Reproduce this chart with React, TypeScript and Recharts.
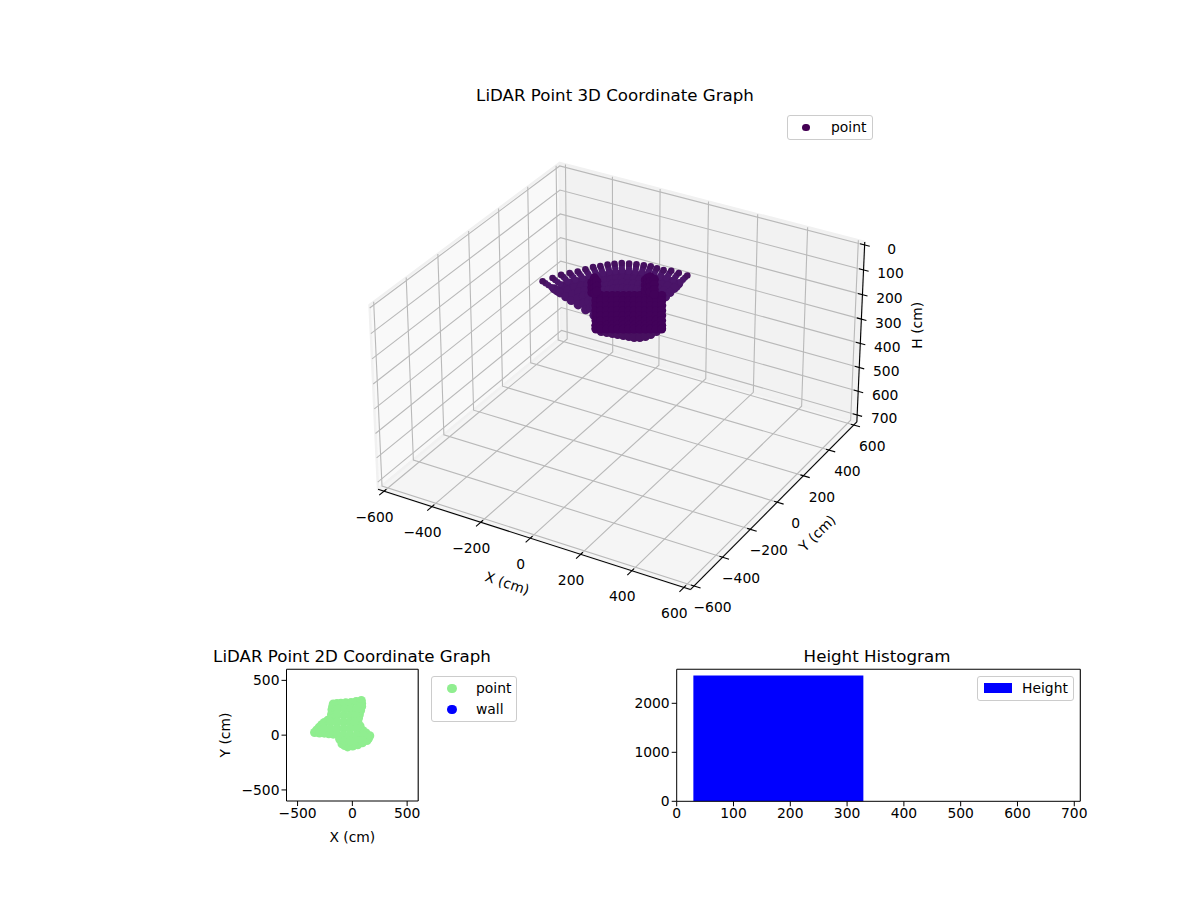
import {
  Bar,
  BarChart,
  ReferenceLine,
  Legend,
  Scatter,
  ScatterChart,
  XAxis,
  YAxis,
  ZAxis,
} from 'recharts';

const FONT = '"DejaVu Sans", sans-serif';

const xTicks = [-600, -400, -200, 0, 200, 400, 600];
const yTicks = [-600, -400, -200, 0, 200, 400, 600];
const hTicks = [0, 100, 200, 300, 400, 500, 600, 700];

// fan of scan rays: one row per height, one column per ray
const rayHeights = [115, 120, 126, 132, 137, 143, 149, 160, 171, 184, 198, 214];
const rayX = [
  [-327, -309, -295, -276, -257, -242, -227, -209, -192, -174, -154, -129, -104, -78, -53, -26, 1, 27, 58, 93],
  [-316, -299, -285, -267, -248, -234, -220, -202, -186, -168, -149, -125, -101, -76, -52, -26, 0, 25, 55, 89],
  [-306, -289, -276, -258, -240, -226, -213, -196, -180, -163, -145, -121, -98, -74, -51, -26, 0, 24, 53, 85],
  [-295, -279, -266, -249, -232, -218, -205, -189, -174, -158, -140, -117, -95, -72, -50, -25, -1, 22, 50, 81],
  [-284, -269, -257, -240, -224, -211, -198, -183, -168, -153, -135, -114, -92, -70, -49, -25, -2, 20, 47, 77],
  [-273, -258, -247, -231, -215, -203, -190, -176, -162, -147, -130, -110, -89, -68, -47, -25, -2, 18, 44, 73],
  [-262, -248, -237, -222, -207, -195, -183, -169, -156, -142, -126, -106, -86, -66, -46, -25, -3, 17, 42, 69],
  [-241, -228, -218, -205, -191, -180, -169, -156, -144, -131, -117, -99, -81, -62, -44, -25, -5, 13, 36, 61],
  [-220, -208, -199, -186, -174, -164, -155, -143, -132, -120, -107, -91, -75, -58, -41, -24, -6, 11, 31, 53],
  [-195, -185, -177, -166, -155, -147, -138, -128, -118, -108, -97, -83, -68, -53, -39, -24, -8, 6, 24, 44],
  [-167, -158, -152, -142, -133, -126, -119, -110, -102, -94, -84, -72, -60, -47, -35, -22, -10, 3, 18, 35],
  [-136, -129, -124, -117, -110, -104, -98, -91, -85, -78, -71, -61, -52, -42, -32, -22, -12, -2, 10, 23],
];
const rayY = [
  [10, 48, 83, 110, 134, 162, 190, 210, 232, 250, 267, 276, 285, 292, 298, 295, 295, 304, 303, 302],
  [11, 48, 82, 108, 131, 158, 185, 204, 226, 243, 259, 268, 277, 284, 289, 286, 286, 295, 294, 293],
  [13, 49, 81, 106, 129, 155, 181, 199, 220, 237, 252, 261, 269, 276, 281, 278, 278, 287, 286, 285],
  [15, 50, 80, 104, 126, 151, 176, 194, 214, 230, 245, 253, 261, 268, 273, 270, 270, 278, 277, 276],
  [17, 50, 80, 103, 124, 148, 172, 189, 208, 223, 238, 246, 253, 260, 265, 262, 262, 270, 269, 268],
  [19, 50, 79, 101, 121, 144, 167, 184, 202, 216, 231, 238, 245, 251, 256, 254, 254, 261, 260, 259],
  [21, 51, 78, 100, 119, 141, 163, 179, 196, 210, 224, 231, 238, 243, 248, 246, 246, 253, 252, 251],
  [24, 52, 77, 96, 113, 134, 154, 168, 184, 197, 209, 216, 222, 227, 232, 229, 229, 236, 235, 234],
  [27, 52, 75, 93, 108, 126, 145, 158, 172, 184, 195, 200, 206, 211, 215, 213, 213, 219, 218, 217],
  [32, 53, 73, 89, 102, 118, 134, 146, 158, 169, 178, 183, 188, 192, 196, 194, 194, 199, 199, 198],
  [36, 54, 71, 84, 95, 109, 122, 132, 142, 151, 159, 163, 168, 171, 174, 173, 173, 177, 176, 176],
  [41, 55, 69, 79, 88, 99, 109, 117, 125, 132, 138, 142, 145, 148, 150, 149, 149, 153, 152, 152],
];

// central shaft: columns of points, each running down to its own floor height
const shaftX = [-104, -88, -71, -54, -38, -21, -4, 12, 29, 46, 62, 79, 95];
const shaftY = [0, 9, 19, 29, 38, 48, 58, 67, 77, 87, 96, 106, 115];
const shaftFloor = [239, 251, 255, 259, 263, 267, 271, 275, 275, 271, 263, 251, 239];
const shaftHeights = [106, 126, 146, 166, 186, 206, 226, 241];

const hornPoints = [
  [-116, -7, 54], [-116, -7, 74], [-116, -7, 94],
  [-108, -2, 36], [-108, -2, 56], [-108, -2, 76], [-108, -2, 96],
  [-101, 2, 49], [-101, 2, 69], [-101, 2, 89],
  [45, 86, 44], [45, 86, 64], [45, 86, 84],
  [52, 90, 36], [52, 90, 56], [52, 90, 76],
  [60, 95, 32], [60, 95, 52], [60, 95, 72], [60, 95, 92],
  [72, 102, 42], [72, 102, 62], [72, 102, 82], [72, 102, 102],
];

// top-down footprint for the 2D panel
const footprint = [
  [-345, 24], [-325, 48], [-302, 73], [-280, 95], [-256, 116], [-225, 135], [-195, 152], [-190, 190], [-186, 232],
  [-180, 260], [-174, 284], [-140, 288], [-104, 290], [-60, 295], [-12, 299], [35, 308], [82, 317], [85, 290],
  [85, 262], [75, 225], [64, 186], [56, 155], [49, 125], [70, 85], [95, 43], [125, 20], [159, -6], [148, -28],
  [134, -49], [92, -70], [49, -88], [3, -100], [-43, -107], [-70, -95], [-95, -79], [-115, -38], [-134, 3],
  [-175, 9], [-215, 13], [-256, 18], [-300, 20],
  [-130, 240], [-70, 240], [-10, 240], [40, 240],
  [-140, 180], [-80, 180], [-20, 180], [30, 180],
  [-200, 120], [-140, 120], [-80, 120], [-20, 120], [20, 120],
  [-260, 60], [-200, 60], [-140, 60], [-80, 60], [-20, 60], [40, 60],
  [-80, 0], [-20, 0], [40, 0], [100, 0],
  [-70, -50], [-20, -50], [40, -50], [90, -50],
];

const histCenters = [179];
const histCounts = [2566];

const LIM = 625;
const H_TOP = -12;
const H_BOTTOM = 730;

// same camera as a default mplot3d view (elev 30, azim -60)
function project(x: number, y: number, h: number) {
  const qx = (x / 625) * 0.571;
  const qy = (y / 625) * 0.571;
  const qz = 0.337 - ((h - H_TOP) / (H_BOTTOM - H_TOP)) * 0.674;
  const u = 0.866 * qx + 0.5 * qy;
  const v = -0.25 * qx + 0.433 * qy + 0.866 * qz;
  const w = 0.433 * qx - 0.75 * qy + 0.5 * qz;
  const depth = 10 - w;
  return { px: 621.7 + (3120 * u) / depth, py: 365.5 - (3120 * v) / depth };
}

const path3d = (pts: number[][]) => pts.map(([x, y, h]) => project(x, y, h));
const minus = (v: number) => String(v).replace('-', '\u2212');

const fanRow = (h: number, row: number) => rayX[row].map((x, i) => project(x, rayY[row][i], h));
const fanTips = fanRow(rayHeights[0], 0);
const fanOuter = rayHeights.slice(1, 4).flatMap((h, row) => fanRow(h, row + 1));
const fanInner = rayHeights.slice(4).flatMap((h, row) => fanRow(h, row + 4));
const shaftUpper = shaftX.flatMap((x, i) => shaftHeights.map((h) => project(x, shaftY[i], h)));
const shaftLower = shaftX.map((x, i) => project(x, shaftY[i], shaftFloor[i] - 12)).concat(
  shaftX.map((x, i) => project(x, shaftY[i], shaftFloor[i])),
);
const horns = hornPoints.map(([x, y, h]) => project(x, y, h));

const panes = [
  { fill: '#f9f9f9', pts: [[-LIM, -LIM, H_BOTTOM], [-LIM, -LIM, H_TOP], [-LIM, LIM, H_TOP], [-LIM, LIM, H_BOTTOM]] },
  { fill: '#f2f2f2', pts: [[-LIM, LIM, H_BOTTOM], [-LIM, LIM, H_TOP], [LIM, LIM, H_TOP], [LIM, LIM, H_BOTTOM]] },
  { fill: '#f5f5f5', pts: [[-LIM, -LIM, H_BOTTOM], [LIM, -LIM, H_BOTTOM], [LIM, LIM, H_BOTTOM], [-LIM, LIM, H_BOTTOM]] },
];

const gridLines = [
  ...xTicks.map((t) => [[t, -LIM, H_BOTTOM], [t, LIM, H_BOTTOM], [t, LIM, H_TOP]]),
  ...yTicks.map((t) => [[LIM, t, H_BOTTOM], [-LIM, t, H_BOTTOM], [-LIM, t, H_TOP]]),
  ...hTicks.map((t) => [[-LIM, -LIM, t], [-LIM, LIM, t], [LIM, LIM, t]]),
];

const axisLines = [
  [[-LIM, -LIM, H_BOTTOM], [LIM, -LIM, H_BOTTOM]],
  [[LIM, -LIM, H_BOTTOM], [LIM, LIM, H_BOTTOM]],
  [[LIM, LIM, H_BOTTOM], [LIM, LIM, H_TOP]],
];

const tickMarks = [
  ...xTicks.map((t) => [[t, -LIM + 15, H_BOTTOM], [t, -LIM - 30, H_BOTTOM]]),
  ...yTicks.map((t) => [[LIM - 12, t, H_BOTTOM], [LIM + 25, t, H_BOTTOM]]),
  ...hTicks.map((t) => [[LIM - 18, LIM, t], [LIM + 20, LIM, t]]),
];

const shift = (p: { px: number; py: number }, dx: number, dy: number) => ({ px: p.px + dx, py: p.py + dy });

const tickLabels = [
  ...xTicks.map((t) => ({ ...shift(project(t, -LIM, H_BOTTOM), -9.5, 25.5), label: minus(t), angle: 0 })),
  ...yTicks.map((t) => ({ ...shift(project(LIM, t, H_BOTTOM), 18.5, 21), label: minus(t), angle: 0 })),
  ...hTicks.map((t) => ({ ...shift(project(LIM, LIM, t), 27, 3.5), label: minus(t), angle: 0 })),
];

const axisTitles = [
  { ...shift(project(0, -LIM, H_BOTTOM), -23, 45), label: 'X (cm)', angle: 18 },
  { ...shift(project(LIM, 0, H_BOTTOM), 40, 31), label: 'Y (cm)', angle: -45 },
  { ...shift(project(LIM, LIM, 325), 56, 0), label: 'H (cm)', angle: -90 },
];

const TextMark = (p: any) => (
  <text
    x={p.cx}
    y={p.cy}
    textAnchor="middle"
    dominantBaseline="central"
    fontSize={13.89}
    fill="#000"
    transform={p.payload.angle ? `rotate(${p.payload.angle} ${p.cx} ${p.cy})` : undefined}
  >
    {p.payload.label}
  </text>
);

const NoMark = () => <g />;
const dot = (r: number, fill: string) => (p: any) => <circle cx={p.cx} cy={p.cy} r={r} fill={fill} />;

const paneShape = (stroke: string, fill: string) => (p: any) => (
  <polygon
    points={p.points.map((q: any) => `${q.x},${q.y}`).join(' ')}
    fill={fill}
    stroke={stroke}
    strokeWidth={2.5}
    strokeLinejoin="round"
  />
);

// box drawn in the matplotlib legend style; marker is a dot or a patch
const LegendBox = ({ payload, width, height, markerX, markerR, textX, patch }: any) => (
  <div
    style={{
      position: 'relative',
      boxSizing: 'border-box',
      width,
      height,
      border: '1px solid #ccc',
      borderRadius: 3,
      background: '#fff',
      fontFamily: FONT,
      fontSize: 13.89,
      color: '#000',
    }}
  >
    {payload.map((e: any, i: number) => (
      <div key={e.value}>
        {patch ? (
          <div style={{ position: 'absolute', left: markerX - 14, top: 6, width: 28, height: 10, background: e.color }} />
        ) : (
          <div
            style={{
              position: 'absolute',
              left: markerX - markerR,
              top: 11.5 + i * 21 - markerR,
              width: markerR * 2,
              height: markerR * 2,
              borderRadius: '50%',
              background: e.color,
            }}
          />
        )}
        <div style={{ position: 'absolute', left: textX, top: 2 + i * 20.5, lineHeight: '18px' }}>{e.value}</div>
      </div>
    ))}
  </div>
);

const Lidar3D = () => (
  <ScatterChart width={1200} height={900} margin={{ top: 0, right: 0, bottom: 0, left: 0 }} style={{ position: 'absolute', left: 0, top: 0 }}>
    <XAxis type="number" dataKey="px" domain={[0, 1200]} hide />
    <YAxis type="number" dataKey="py" domain={[0, 900]} reversed hide />
    <ZAxis range={[35, 35]} />
    {panes.map((pane) => (
      <Scatter
        key={pane.fill}
        data={path3d(pane.pts)}
        shape={NoMark}
        line={paneShape('#f1f1f1', pane.fill)}
        legendType="none"
        isAnimationActive={false}
      />
    ))}
    {gridLines.map((pts, i) => (
      <Scatter key={`g${i}`} data={path3d(pts)} shape={NoMark} line={{ stroke: '#b9b9b9', strokeWidth: 1.1 }} legendType="none" isAnimationActive={false} />
    ))}
    {axisLines.concat(tickMarks).map((pts, i) => (
      <Scatter key={`a${i}`} data={path3d(pts)} shape={NoMark} line={{ stroke: '#000', strokeWidth: 1.1 }} legendType="none" isAnimationActive={false} />
    ))}
    <Scatter data={fanInner} shape={dot(4.6, '#4a1468')} isAnimationActive={false} />
    <Scatter data={fanOuter} shape={dot(3.1, '#4b166a')} isAnimationActive={false} />
    <Scatter name="point" data={fanTips} shape={dot(3.3, '#45105f')} isAnimationActive={false} />
    <Scatter data={shaftLower} fill="#47105f" legendType="none" isAnimationActive={false} />
    <Scatter data={shaftUpper} fill="#42025a" legendType="none" isAnimationActive={false} />
    <Scatter data={horns} fill="#42025a" legendType="none" isAnimationActive={false} />
    <Scatter data={tickLabels} shape={TextMark} legendType="none" isAnimationActive={false} />
    <Scatter data={axisTitles} shape={TextMark} legendType="none" isAnimationActive={false} />
    <text x={615} y={95} textAnchor="middle" dominantBaseline="central" fontSize={16.67} fill="#000">
      LiDAR Point 3D Coordinate Graph
    </text>
    <Legend
      layout="vertical"
      align="center"
      verticalAlign="middle"
      wrapperStyle={{ left: 787, top: 115, width: 86, height: 25 }}
      content={() => <LegendBox payload={[{ value: 'point', color: '#440154' }]} width={86} height={25} markerX={18} markerR={3.7} textX={43} />}
    />
  </ScatterChart>
);

const footprintData = footprint.map(([x, y]) => ({ x, y }));

const Footprint2D = () => (
  <ScatterChart width={330} height={210} margin={{ top: 29.3, right: 111.8, bottom: 4, left: 26.5 }} style={{ position: 'absolute', left: 200, top: 640 }}>
    <XAxis
      type="number"
      dataKey="x"
      domain={[-601, 601]}
      ticks={[-500, 0, 500]}
      tickFormatter={minus}
      height={45}
      tickSize={5}
      tickMargin={2}
      interval={0}
      stroke="#000"
      tick={{ fill: '#000', fontSize: 13.89 }}
      label={{ value: 'X (cm)', position: 'insideBottom', offset: 4, fill: '#000', fontSize: 13.89 }}
    />
    <YAxis
      type="number"
      dataKey="y"
      domain={[-601, 601]}
      ticks={[-500, 0, 500]}
      tickFormatter={minus}
      width={60}
      tickSize={5}
      tickMargin={2}
      interval={0}
      stroke="#000"
      tick={{ fill: '#000', fontSize: 13.89 }}
    />
    <ZAxis range={[64, 64]} />
    <ReferenceLine x={601} stroke="#000" strokeWidth={1.1} />
    <ReferenceLine y={601} stroke="#000" strokeWidth={1.1} />
    <Scatter name="point" data={footprintData} fill="#90ee90" isAnimationActive={false} />
    <Scatter name="wall" data={[]} fill="#0000ff" isAnimationActive={false} />
    <text x={152} y={16} textAnchor="middle" dominantBaseline="central" fontSize={16.67} fill="#000">
      LiDAR Point 2D Coordinate Graph
    </text>
    <text x={25} y={95} textAnchor="middle" dominantBaseline="central" fontSize={13.89} fill="#000" transform="rotate(-90 25 95)">
      Y (cm)
    </text>
    <Legend
      layout="vertical"
      align="center"
      verticalAlign="middle"
      wrapperStyle={{ left: 231, top: 36, width: 86, height: 46 }}
      content={() => (
        <LegendBox
          payload={[{ value: 'point', color: '#90ee90' }, { value: 'wall', color: '#0000ff' }]}
          width={86}
          height={46}
          markerX={20}
          markerR={4.7}
          textX={44}
        />
      )}
    />
  </ScatterChart>
);

const histData = histCenters.map((center, i) => ({ center, count: histCounts[i] }));

const HeightHistogram = () => (
  <BarChart width={480} height={210} data={histData} margin={{ top: 29.3, right: 19.7, bottom: 18.7, left: 11.7 }} style={{ position: 'absolute', left: 620, top: 640 }}>
    <XAxis
      type="number"
      dataKey="center"
      domain={[0, 710.6]}
      ticks={[0, 100, 200, 300, 400, 500, 600, 700]}
      height={30}
      tickSize={5}
      tickMargin={2}
      interval={0}
      stroke="#000"
      tick={{ fill: '#000', fontSize: 13.89 }}
    />
    <YAxis
      type="number"
      domain={[0, 2694]}
      ticks={[0, 1000, 2000]}
      width={45}
      tickSize={5}
      tickMargin={2}
      interval={0}
      stroke="#000"
      tick={{ fill: '#000', fontSize: 13.89 }}
    />
    <ReferenceLine x={710.6} stroke="#000" strokeWidth={1.1} />
    <ReferenceLine y={2694} stroke="#000" strokeWidth={1.1} />
    <Bar name="Height" dataKey="count" fill="#0000ff" barSize={170} isAnimationActive={false} />
    <text x={257} y={16} textAnchor="middle" dominantBaseline="central" fontSize={16.67} fill="#000">
      Height Histogram
    </text>
    <Legend
      layout="vertical"
      align="center"
      verticalAlign="middle"
      wrapperStyle={{ left: 357, top: 36, width: 97, height: 25 }}
      content={() => <LegendBox payload={[{ value: 'Height', color: '#0000ff' }]} width={97} height={25} markerX={20} textX={44} patch />}
    />
  </BarChart>
);

export default function App() {
  return (
    <div style={{ position: 'absolute', left: 0, top: 0, width: 1200, height: 900, fontFamily: FONT, background: '#fff' }}>
      <Lidar3D />
      <Footprint2D />
      <HeightHistogram />
    </div>
  );
}
